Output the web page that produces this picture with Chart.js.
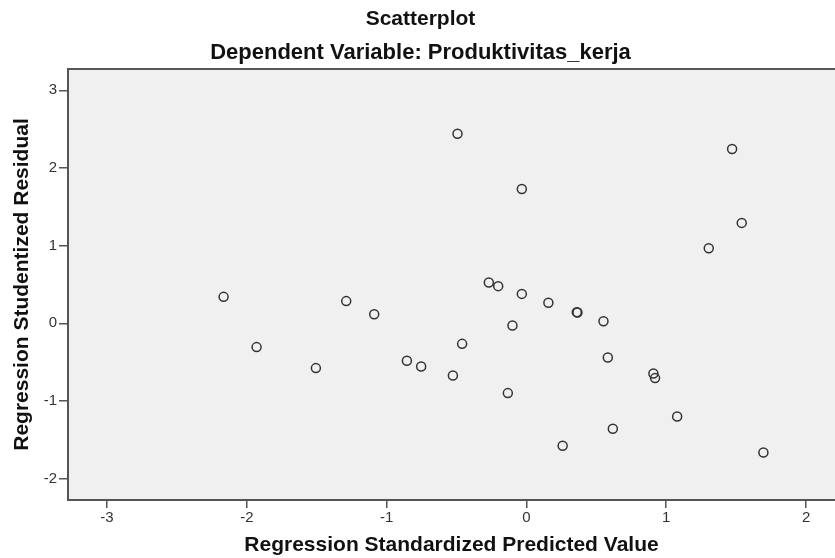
<!DOCTYPE html>
<html>
<head>
<meta charset="utf-8">
<script src="https://cdn.jsdelivr.net/npm/chart.js@4.4.1/dist/chart.umd.min.js"></script>
<style>
    html, body { margin: 0; padding: 0; background: #fff; overflow: hidden; }
    /* canvas is 6px wider than the window: the scatter controller keeps a point-radius
       gap on the right, the reference plot runs to the window edge */
    #wrap { width: 841px; height: 558px; }
</style>
</head>
<body>
<div id="wrap"><canvas id="scatter"></canvas></div>
<script>
// Regression Standardized Predicted Value (x) vs Studentized Residual (y)
const predicted = [-2.166, -1.930, -1.506, -1.289, -1.089, -0.855, -0.753, -0.526, -0.493, -0.460,
                   -0.269, -0.202, -0.133, -0.100, -0.033, -0.033, 0.157, 0.360, 0.365, 0.551,
                   0.582, 0.259, 0.618, 0.908, 0.920, 1.078, 1.304, 1.471, 1.540, 1.695];
const residual = [0.341, -0.306, -0.576, 0.286, 0.118, -0.482, -0.556, -0.671, 2.441, -0.264,
                  0.525, 0.479, -0.898, -0.028, 1.730, 0.379, 0.264, 0.144, 0.140, 0.028,
                  -0.440, -1.576, -1.357, -0.646, -0.705, -1.199, 0.967, 2.245, 1.293, -1.662];
const xTicks = [-3, -2, -1, 0, 1, 2];
const yTicks = [-2, -1, 0, 1, 2, 3];

const points = predicted.map((x, i) => ({ x, y: residual[i] }));

// grey plot background and the top frame line
const plotFrame = {
    id: 'plotFrame',
    beforeDraw(chart) {
        const { ctx, chartArea: a } = chart;
        ctx.save();
        ctx.fillStyle = '#f0f0f0';
        ctx.fillRect(a.left, a.top, a.right - a.left, a.bottom - a.top);
        ctx.restore();
    },
    afterDraw(chart) {
        const { ctx, chartArea: a } = chart;
        ctx.save();
        ctx.strokeStyle = '#555';
        ctx.lineWidth = 2;
        ctx.beginPath();
        ctx.moveTo(a.left, a.top);
        ctx.lineTo(a.right, a.top);
        ctx.stroke();
        ctx.restore();
    }
};

const tickFont = { family: 'Liberation Sans, Arial, sans-serif', size: 15 };
const boldFont = size => ({ family: 'Liberation Sans, Arial, sans-serif', size, weight: 'bold' });

new Chart(document.getElementById('scatter'), {
    type: 'scatter',
    data: {
        datasets: [{
            data: points,
            pointRadius: 4.5,
            pointHoverRadius: 4.5,
            pointBorderWidth: 1.5,
            pointBorderColor: '#333',
            pointBackgroundColor: 'rgba(0,0,0,0)'
        }]
    },
    options: {
        responsive: true,
        maintainAspectRatio: false,
        animation: false,
        layout: { padding: 0 },
        plugins: {
            legend: { display: false },
            tooltip: { enabled: false },
            title: {
                display: true,
                text: 'Scatterplot',
                color: '#111',
                font: boldFont(21),
                padding: { top: 7, bottom: 8 }
            },
            subtitle: {
                display: true,
                text: 'Dependent Variable: Produktivitas_kerja',
                color: '#111',
                font: boldFont(22),
                padding: { top: 0, bottom: 2.4 }
            }
        },
        scales: {
            x: {
                type: 'linear',
                min: -3.279,
                max: 2.207,
                afterBuildTicks: s => { s.ticks = xTicks.map(v => ({ value: v })); },
                afterFit: s => { s.height = 58; s.paddingRight = 0; s.paddingLeft = 0; },
                grid: { drawOnChartArea: false, color: '#555', tickLength: 8, lineWidth: 1.5 },
                border: { color: '#555', width: 2 },
                ticks: { color: '#333', font: tickFont, padding: 1, maxRotation: 0 },
                title: {
                    display: true,
                    text: 'Regression Standardized Predicted Value',
                    color: '#111',
                    font: boldFont(21),
                    padding: { top: 0, bottom: 0 }
                }
            },
            y: {
                type: 'linear',
                min: -2.274,
                max: 3.274,
                afterBuildTicks: s => { s.ticks = yTicks.map(v => ({ value: v })); },
                afterFit: s => { s.width = 68; },
                grid: { drawOnChartArea: false, color: '#555', tickLength: 9, lineWidth: 1.5 },
                border: { color: '#555', width: 2 },
                ticks: { color: '#333', font: tickFont, padding: 2 },
                title: {
                    display: true,
                    text: 'Regression Studentized Residual',
                    color: '#111',
                    font: boldFont(21),
                    padding: { top: 10, bottom: 0 }
                }
            }
        }
    },
    plugins: [plotFrame]
});
</script>
</body>
</html>
